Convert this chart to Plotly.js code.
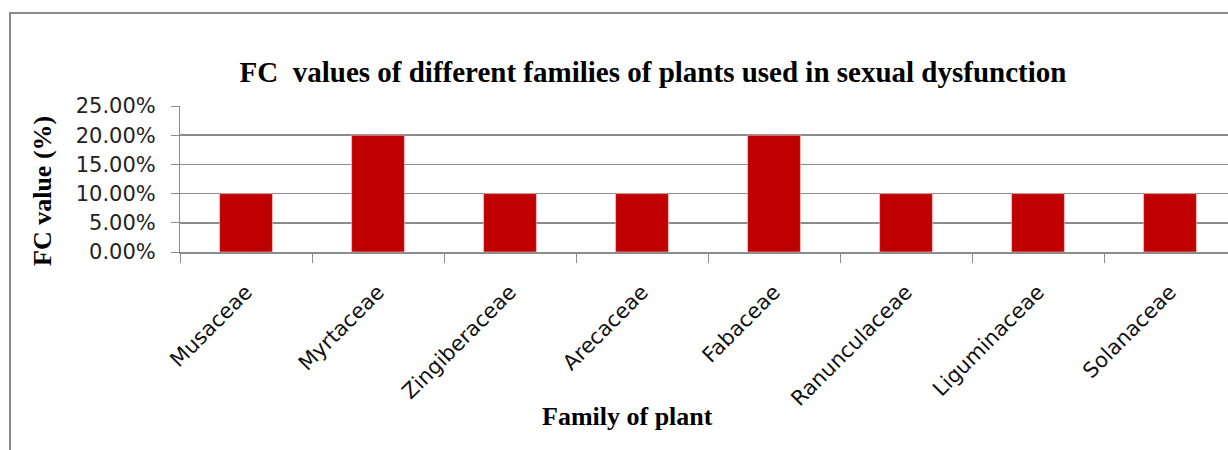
<!DOCTYPE html>
<html>
<head>
<meta charset="utf-8">
<script src="https://cdn.plot.ly/plotly-3.0.1.min.js"></script>
<style>
html,body{margin:0;padding:0;background:#fff;}
#chart{width:1228px;height:450px;}
</style>
</head>
<body>
<div id="chart"></div>
<script>
const families = ["Musaceae","Myrtaceae","Zingiberaceae","Arecaceae","Fabaceae","Ranunculaceae","Liguminaceae","Solanaceae"];
const fcValues = [0.10, 0.20, 0.10, 0.10, 0.20, 0.10, 0.10, 0.10];
const yTicks = [0, 0.05, 0.10, 0.15, 0.20, 0.25];

const W = 1228, H = 450;
const L = 180, T = 106, B = 198;
const plotW = W - L, plotH = H - T - B;
const px = x => (x - L) / plotW;
const py = y => (H - B - y) / plotH;

const serifBold = "Liberation Serif";
const grey = "#8c8c8c";

const trace = {
  type: "bar",
  x: families,
  y: fcValues,
  marker: {color: "#c00000", line: {color: "#f3d0d0", width: 0.6}},
  hoverinfo: "x+y"
};

const layout = {
  width: W, height: H,
  margin: {l: L, r: 0, t: T, b: B, pad: 0},
  paper_bgcolor: "#fff",
  plot_bgcolor: "#fff",
  showlegend: false,
  bargap: 0.6,
  title: {
    text: "<b>FC\u00a0 values of different families of plants used in sexual dysfunction</b>",
    font: {family: serifBold, size: 29, color: "#000"},
    xref: "container", x: 653 / W, xanchor: "center",
    yref: "container", y: 1 - 72 / H, yanchor: "middle"
  },
  xaxis: {
    type: "category",
    range: [-0.5, -0.5 + plotW / 132],
    tickson: "boundaries",
    ticks: "outside", ticklen: 9, tickcolor: grey, tickwidth: 1,
    showline: true, linecolor: grey, linewidth: 1.5,
    showgrid: false,
    tickangle: -45,
    tickfont: {family: "DejaVu Sans", size: 21, color: "#111"},
    ticklabelstandoff: 18,
    fixedrange: true
  },
  yaxis: {
    range: [0, 0.25],
    tickvals: yTicks,
    tickformat: ".2%",
    ticks: "outside", ticklen: 8, tickcolor: grey, tickwidth: 1,
    showline: true, linecolor: grey, linewidth: 1,
    showgrid: true, gridcolor: grey, gridwidth: 1.5,
    zeroline: false,
    tickfont: {family: "DejaVu Sans", size: 21, color: "#222"},
    ticklabelstandoff: 11,
    fixedrange: true
  },
  annotations: [
    {
      text: "<b>FC value (%)</b>",
      xref: "paper", yref: "paper",
      x: px(42), y: py(191),
      xanchor: "center", yanchor: "middle",
      textangle: -90, showarrow: false,
      font: {family: serifBold, size: 26, color: "#000"}
    },
    {
      text: "<b>Family of plant</b>",
      xref: "paper", yref: "paper",
      x: px(627), y: py(416),
      xanchor: "center", yanchor: "middle",
      showarrow: false,
      font: {family: serifBold, size: 26, color: "#000"}
    }
  ],
  shapes: [
    {
      type: "rect", xref: "paper", yref: "paper",
      x0: px(10), x1: px(1245), y0: py(470), y1: py(13),
      line: {color: "#8a8a8a", width: 2}, fillcolor: "rgba(0,0,0,0)",
      layer: "below"
    }
  ]
};

Plotly.newPlot("chart", [trace], layout, {displayModeBar: false, staticPlot: true});
</script>
</body>
</html>
